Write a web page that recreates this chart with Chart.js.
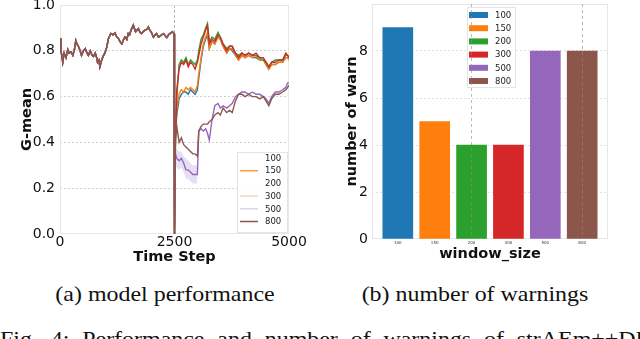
<!DOCTYPE html>
<html>
<head>
<meta charset="utf-8">
<script src="https://cdn.jsdelivr.net/npm/chart.js@4.4.1/dist/chart.umd.min.js"></script>
<style>
  html, body { margin: 0; padding: 0; background: #fff; }
  body { width: 640px; height: 339px; position: relative; overflow: hidden; }
  canvas { position: absolute; top: 0; }
  #grafico-gmean { left: 0; }
  #grafico-avisos { left: 320px; }
  .cap {
    position: absolute;
    font-family: "Liberation Serif", serif;
    font-size: 21px;
    line-height: 21px;
    white-space: nowrap;
    color: #111;
    text-align: center;
    transform: scaleX(1.14);
  }
  #cap-a { left: 45px; width: 240px; top: 284px; }
  #cap-b { left: 355px; width: 240px; top: 284px; }
  #cap-fig { left: 0; top: 329px; text-align: left; transform-origin: left center; word-spacing: 6px; }
</style>
</head>
<body>
<canvas id="grafico-gmean" width="320" height="270"></canvas>
<canvas id="grafico-avisos" width="320" height="270"></canvas>
<div class="cap" id="cap-a">(a) model performance</div>
<div class="cap" id="cap-b">(b) number of warnings</div>
<div class="cap" id="cap-fig">Fig. 4: Performance and number of warnings of strAEm++DD.</div>

<script>
// --- dados do gráfico (a): G-mean ao longo do tempo ---
const seriesLabels = ['100', '150', '200', '300', '500', '800'];
const seriesColors = ['#1f77b4', '#ff7f0e', '#2ca02c', '#d62728', '#9467bd', '#8c564b'];
const timeTicks = [0, 2500, 5000];
const gmeanTicks = [0, 0.2, 0.4, 0.6, 0.8, 1.0];

// antes do drift (t < 2500) todas as janelas coincidem
const preSteps = [0, 20, 40, 60, 90, 130, 170, 200, 240, 280, 320, 345, 370, 400, 440, 470, 510, 550, 590, 620,
  660, 700, 730, 770, 800, 820, 850, 870, 910, 950, 980, 1020, 1060, 1110, 1160, 1200, 1240, 1270, 1310, 1350,
  1390, 1420, 1460, 1490, 1520, 1550, 1600, 1650, 1680, 1710, 1750, 1780, 1820, 1860, 1900, 1930, 1960, 1990,
  2040, 2080, 2110, 2150, 2180, 2220, 2260, 2300, 2330, 2370, 2400, 2450, 2490];
const preGMean = [0.855, 0.80, 0.78, 0.75, 0.79, 0.77, 0.805, 0.79, 0.795, 0.78, 0.81, 0.845, 0.83, 0.82, 0.80,
  0.78, 0.80, 0.81, 0.79, 0.78, 0.80, 0.78, 0.775, 0.79, 0.77, 0.75, 0.76, 0.73, 0.76, 0.78, 0.79, 0.815, 0.855,
  0.876, 0.87, 0.878, 0.86, 0.855, 0.84, 0.83, 0.85, 0.86, 0.85, 0.875, 0.87, 0.89, 0.912, 0.883, 0.89, 0.897,
  0.88, 0.875, 0.885, 0.89, 0.895, 0.904, 0.89, 0.883, 0.86, 0.87, 0.875, 0.86, 0.863, 0.87, 0.875, 0.865,
  0.858, 0.87, 0.875, 0.883, 0.875];

const postSteps = [2500, 2520, 2550, 2600, 2650, 2700, 2750, 2800, 2850, 2900, 2950, 3000, 3030, 3080, 3130,
  3180, 3220, 3260, 3320, 3380, 3450, 3500, 3560, 3640, 3700, 3760, 3830, 3900, 3970, 4040,
  4120, 4200, 4280, 4360, 4440, 4500, 4560, 4620, 4700, 4780, 4860, 4930, 4970, 5000];
const gmean100 = [0.0, 0.43, 0.52, 0.59, 0.61, 0.62, 0.62, 0.61, 0.63, 0.62, 0.61, 0.63, 0.68, 0.76, 0.82,
  0.85, 0.87, 0.81, 0.84, 0.83, 0.86, 0.85, 0.82, 0.79, 0.81, 0.80, 0.78, 0.76, 0.78, 0.77,
  0.78, 0.77, 0.77, 0.76, 0.76, 0.74, 0.72, 0.74, 0.74, 0.75, 0.75, 0.77, 0.77, 0.76];
const gmean150 = [0.0, 0.45, 0.55, 0.61, 0.63, 0.62, 0.64, 0.63, 0.64, 0.63, 0.62, 0.65, 0.70, 0.77, 0.83,
  0.86, 0.88, 0.81, 0.84, 0.83, 0.86, 0.85, 0.82, 0.79, 0.81, 0.81, 0.78, 0.76, 0.78, 0.77,
  0.78, 0.77, 0.78, 0.76, 0.76, 0.74, 0.72, 0.74, 0.74, 0.75, 0.75, 0.77, 0.77, 0.76];
const gmean200 = [0.0, 0.38, 0.60, 0.74, 0.76, 0.75, 0.77, 0.74, 0.76, 0.75, 0.74, 0.76, 0.80, 0.85, 0.87,
  0.90, 0.92, 0.84, 0.86, 0.85, 0.88, 0.86, 0.83, 0.81, 0.82, 0.82, 0.79, 0.78, 0.79, 0.78,
  0.79, 0.78, 0.78, 0.77, 0.76, 0.75, 0.73, 0.75, 0.76, 0.76, 0.76, 0.78, 0.78, 0.77];
const gmean300 = [0.0, 0.40, 0.63, 0.72, 0.75, 0.74, 0.76, 0.73, 0.75, 0.74, 0.72, 0.75, 0.78, 0.83, 0.86,
  0.89, 0.91, 0.83, 0.85, 0.84, 0.87, 0.86, 0.83, 0.80, 0.82, 0.82, 0.79, 0.77, 0.79, 0.78,
  0.79, 0.78, 0.79, 0.77, 0.77, 0.75, 0.73, 0.75, 0.75, 0.76, 0.76, 0.79, 0.78, 0.77];
const gmean500 = [0.0, 0.35, 0.33, 0.32, 0.33, 0.31, 0.28, 0.28, 0.27, 0.26, 0.26, 0.26, 0.45, 0.46, 0.45,
  0.46, 0.44, 0.41, 0.50, 0.56, 0.57, 0.55, 0.56, 0.55, 0.56, 0.57, 0.60, 0.61, 0.62, 0.62,
  0.61, 0.62, 0.61, 0.61, 0.60, 0.59, 0.57, 0.60, 0.62, 0.62, 0.63, 0.64, 0.66, 0.66];
const gmean800 = [0.0, 0.42, 0.47, 0.40, 0.42, 0.39, 0.38, 0.37, 0.36, 0.35, 0.35, 0.34, 0.45, 0.47, 0.48,
  0.48, 0.48, 0.49, 0.50, 0.52, 0.53, 0.52, 0.55, 0.53, 0.54, 0.53, 0.58, 0.61, 0.61, 0.60,
  0.61, 0.60, 0.60, 0.59, 0.60, 0.58, 0.56, 0.59, 0.61, 0.61, 0.62, 0.63, 0.64, 0.65];

// faixa de desvio da janela 500 logo após o drift
const bandSteps = [2520, 2550, 2600, 2650, 2700, 2750, 2800, 2850, 2900, 2950, 3000];
const band500High = [0.38, 0.37, 0.36, 0.36, 0.34, 0.33, 0.32, 0.31, 0.30, 0.30, 0.30];
const band500Low = [0.30, 0.29, 0.28, 0.29, 0.27, 0.24, 0.24, 0.23, 0.22, 0.22, 0.22];

// --- dados do gráfico (b): número de avisos ---
const windowSizes = ['100', '150', '200', '300', '500', '800'];
const warnCounts = [9, 5, 4, 4, 8, 8];
const warnTicks = [0, 2, 4, 6, 8];

const tickFont = { family: 'DejaVu Sans', size: 14 };
const titleFont = { family: 'DejaVu Sans', size: 14.5, weight: 'bold' };
const transparente = 'rgba(0,0,0,0)';

function toPoints(steps, values) {
  return steps.map((t, i) => ({ x: t, y: values[i] }));
}

// moldura clara em volta da área do gráfico
const moldura = {
  id: 'moldura',
  beforeDatasetsDraw(chart) {
    const { ctx, chartArea: a } = chart;
    ctx.save();
    ctx.strokeStyle = '#e6e6e6';
    ctx.lineWidth = 1;
    ctx.strokeRect(a.left + 0.5, a.top + 0.5, a.width - 1, a.height - 1);
    ctx.restore();
  }
};

// legenda desenhada dentro da área do gráfico
const legendaInterna = {
  id: 'legendaInterna',
  afterDatasetsDraw(chart, args, opts) {
    if (!opts.items) return;
    const { ctx, chartArea: a } = chart;
    const x0 = a.left + opts.x, y0 = a.top + opts.y;
    ctx.save();
    ctx.fillStyle = 'rgba(255,255,255,0.9)';
    ctx.fillRect(x0, y0, opts.w, opts.h);
    ctx.strokeStyle = '#e4e4e4';
    ctx.lineWidth = 1;
    ctx.strokeRect(x0 + 0.5, y0 + 0.5, opts.w - 1, opts.h - 1);
    ctx.font = '8.5px "DejaVu Sans"';
    ctx.textBaseline = 'middle';
    opts.items.forEach((it, i) => {
      const cy = y0 + opts.first + i * opts.step;
      if (opts.kind === 'line') {
        ctx.strokeStyle = it.color;
        ctx.lineWidth = 1.5;
        ctx.beginPath();
        ctx.moveTo(x0 + 3, cy);
        ctx.lineTo(x0 + 21, cy);
        ctx.stroke();
      } else {
        ctx.fillStyle = it.color;
        ctx.fillRect(x0 + 2, cy - 3, 19, 6);
      }
      ctx.fillStyle = '#222';
      ctx.fillText(it.label, x0 + 28, cy + 0.5);
    });
    ctx.restore();
  }
};

// --- Gráfico (a) ---
const gmeanPost = [gmean100, gmean150, gmean200, gmean300, gmean500, gmean800];
const lineDatasets = gmeanPost.map((vals, i) => ({
  label: seriesLabels[i],
  data: toPoints(preSteps, preGMean).concat(toPoints(postSteps, vals)),
  borderColor: seriesColors[i],
  borderWidth: 1.4,
  pointRadius: 0,
  tension: 0,
  fill: false,
  order: 6 - i
}));
lineDatasets.push({
  label: 'band-low',
  data: toPoints(bandSteps, band500Low),
  borderWidth: 0,
  pointRadius: 0,
  fill: false,
  order: 10
});
lineDatasets.push({
  label: 'band-high',
  data: toPoints(bandSteps, band500High),
  borderWidth: 0,
  pointRadius: 0,
  backgroundColor: 'rgba(148,103,189,0.22)',
  fill: '-1',
  order: 10
});

new Chart(document.getElementById('grafico-gmean'), {
  type: 'line',
  data: { datasets: lineDatasets },
  plugins: [moldura, legendaInterna],
  options: {
    responsive: false,
    animation: false,
    layout: { padding: { left: 0, right: 31, top: 5, bottom: 0 } },
    plugins: {
      legend: { display: false },
      tooltip: { enabled: false },
      legendaInterna: {
        kind: 'line', x: 177, y: 147, w: 51, h: 81, first: 6, step: 12.7,
        items: [
          { label: '100', color: transparente },
          { label: '150', color: '#ff9a45' },
          { label: '200', color: transparente },
          { label: '300', color: '#f8d2c4' },
          { label: '500', color: '#ddd6ee' },
          { label: '800', color: '#8c564b' }
        ]
      }
    },
    scales: {
      x: {
        type: 'linear', min: 0, max: 5000,
        afterBuildTicks: s => { s.ticks = timeTicks.map(v => ({ value: v })); },
        afterFit: s => { s.height = 36; s.paddingLeft = 0; s.paddingRight = 0; },
        ticks: { font: tickFont, color: '#111', padding: 0, maxRotation: 0, autoSkip: false,
                 callback: v => String(v) },
        grid: {
          drawTicks: false,
          color: c => (c.tick && c.tick.value === 2500) ? '#b8b8b8' : transparente
        },
        border: { display: false, dash: [3, 2] },
        title: { display: true, text: 'Time Step', font: titleFont, color: '#111', padding: { top: 0, bottom: 4 } }
      },
      y: {
        min: 0, max: 1,
        afterBuildTicks: s => { s.ticks = gmeanTicks.map(v => ({ value: v })); },
        afterFit: s => { s.width = 60; s.paddingTop = 0; s.paddingBottom = 0; },
        ticks: { font: tickFont, color: '#111', padding: 5, callback: v => v.toFixed(1) },
        grid: {
          drawTicks: false,
          color: c => (c.tick && c.tick.value > 0 && c.tick.value < 1) ? '#cfcfcf' : transparente
        },
        border: { display: false, dash: [2, 2] },
        title: { display: true, text: 'G-mean', font: titleFont, color: '#111', padding: { top: 19, bottom: 0 } }
      }
    }
  }
});

// --- Gráfico (b) ---
new Chart(document.getElementById('grafico-avisos'), {
  type: 'bar',
  data: {
    datasets: [{
      label: 'number of warn',
      data: warnCounts.map((v, i) => ({ x: i, y: v })),
      backgroundColor: seriesColors,
      borderWidth: 0,
      barThickness: 30
    }]
  },
  plugins: [moldura, legendaInterna],
  options: {
    responsive: false,
    animation: false,
    layout: { padding: { left: 0, right: 32, top: 4, bottom: 0 } },
    plugins: {
      legend: { display: false },
      tooltip: { enabled: false },
      legendaInterna: {
        kind: 'box', x: 95, y: 3, w: 49, h: 81, first: 8, step: 13.2,
        items: windowSizes.map((w, i) => ({ label: w, color: seriesColors[i] }))
      }
    },
    scales: {
      x: {
        type: 'linear', min: -0.7, max: 5.7, offset: false,
        afterBuildTicks: s => { s.ticks = windowSizes.map((w, i) => ({ value: i })); },
        afterFit: s => { s.height = 31; s.paddingLeft = 0; s.paddingRight = 0; },
        ticks: { font: { family: 'DejaVu Sans', size: 4 }, color: '#333', padding: 2, maxRotation: 0, autoSkip: false,
                 callback: v => windowSizes[v] },
        grid: {
          drawTicks: false,
          offset: false,
          z: 1,
          color: c => (c.tick && (c.tick.value === 2 || c.tick.value === 5)) ? 'rgba(140,140,140,0.6)' : transparente
        },
        border: { display: false, dash: [3, 3] },
        title: { display: true, text: 'window_size', font: titleFont, color: '#111', padding: { top: 0, bottom: 7 } }
      },
      y: {
        min: 0, max: 10,
        afterBuildTicks: s => { s.ticks = warnTicks.map(v => ({ value: v })); },
        afterFit: s => { s.width = 52; s.paddingTop = 0; s.paddingBottom = 0; },
        ticks: { font: tickFont, color: '#111', padding: 4 },
        grid: {
          drawTicks: false,
          color: c => (c.tick && c.tick.value > 0) ? '#e2e2e2' : transparente
        },
        border: { display: false, dash: [2, 2] },
        title: { display: true, text: 'number of warn', font: titleFont, color: '#111', padding: { top: 24, bottom: 0 } }
      }
    }
  }
});
</script>
</body>
</html>
